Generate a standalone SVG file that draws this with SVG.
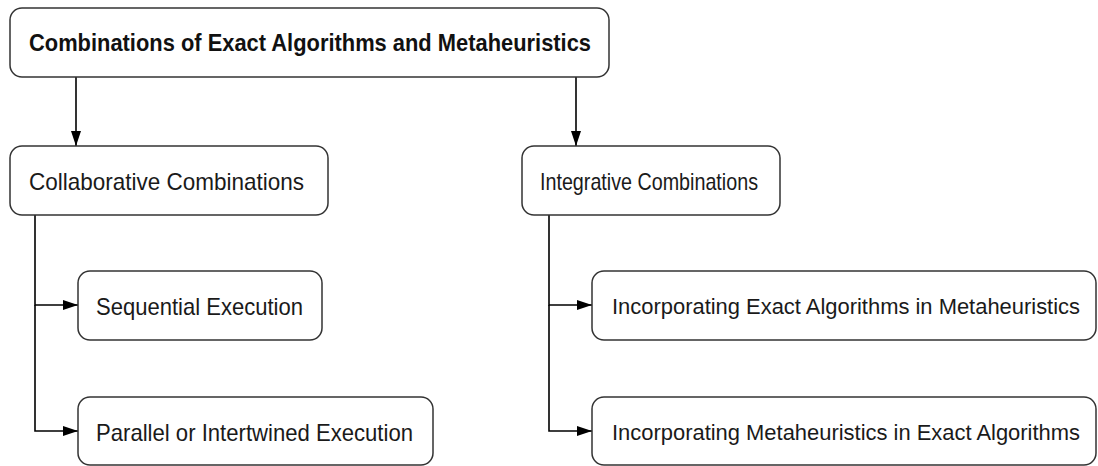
<svg xmlns="http://www.w3.org/2000/svg" width="1098" height="466" viewBox="0 0 1098 466">
<defs>
<style>
.box{fill:#ffffff;stroke:#333333;stroke-width:1.5}
.t{font-family:"Liberation Sans",Arial,sans-serif;font-size:24px;fill:#1a1a1a}
.tn{font-family:"Liberation Sans",Arial,sans-serif;font-size:22px;fill:#1a1a1a}
.tb{font-family:"Liberation Sans",Arial,sans-serif;font-size:24px;font-weight:bold;fill:#111111}
.c{fill:none;stroke:#000000;stroke-width:1.6}
</style>
<marker id="ah" viewBox="0 0 15 10" refX="15" refY="5" markerWidth="15" markerHeight="10" markerUnits="userSpaceOnUse" orient="auto">
<path d="M0,0 L15,5 L0,10 Z" fill="#000000"/>
</marker>
</defs>
<rect width="1098" height="466" fill="#ffffff"/>
<g id="connectors">
<path class="c" d="M76,77 V146" marker-end="url(#ah)"/>
<path class="c" d="M576,77 V146" marker-end="url(#ah)"/>
<path class="c" d="M35,215 V305 H78" marker-end="url(#ah)"/>
<path class="c" d="M35,305 V431 H78" marker-end="url(#ah)"/>
<path class="c" d="M549,215 V305 H592" marker-end="url(#ah)"/>
<path class="c" d="M549,305 V431 H592" marker-end="url(#ah)"/>
</g>
<g id="root">
<rect class="box" x="10" y="8" width="599" height="69" rx="12"/>
<text class="tb" x="29" y="51" textLength="562" lengthAdjust="spacingAndGlyphs">Combinations of Exact Algorithms and Metaheuristics</text>
</g>
<g id="collaborative">
<rect class="box" x="10" y="146" width="318" height="69" rx="12"/>
<text class="t" x="29" y="190" textLength="275" lengthAdjust="spacingAndGlyphs">Collaborative Combinations</text>
</g>
<g id="integrative">
<rect class="box" x="522" y="146" width="258" height="69" rx="12"/>
<text class="t" x="540" y="190" textLength="218" lengthAdjust="spacingAndGlyphs">Integrative Combinations</text>
</g>
<g id="sequential">
<rect class="box" x="78" y="271" width="244" height="69" rx="12"/>
<text class="t" x="96" y="315" textLength="207" lengthAdjust="spacingAndGlyphs">Sequential Execution</text>
</g>
<g id="parallel">
<rect class="box" x="78" y="397" width="355" height="68" rx="12"/>
<text class="t" x="96" y="441" textLength="317" lengthAdjust="spacingAndGlyphs">Parallel or Intertwined Execution</text>
</g>
<g id="exact-in-meta">
<rect class="box" x="592" y="271" width="504" height="69" rx="12"/>
<text class="tn" x="612" y="314" textLength="468" lengthAdjust="spacingAndGlyphs">Incorporating Exact Algorithms in Metaheuristics</text>
</g>
<g id="meta-in-exact">
<rect class="box" x="592" y="397" width="504" height="68" rx="12"/>
<text class="tn" x="612" y="440" textLength="468" lengthAdjust="spacingAndGlyphs">Incorporating Metaheuristics in Exact Algorithms</text>
</g>
</svg>
